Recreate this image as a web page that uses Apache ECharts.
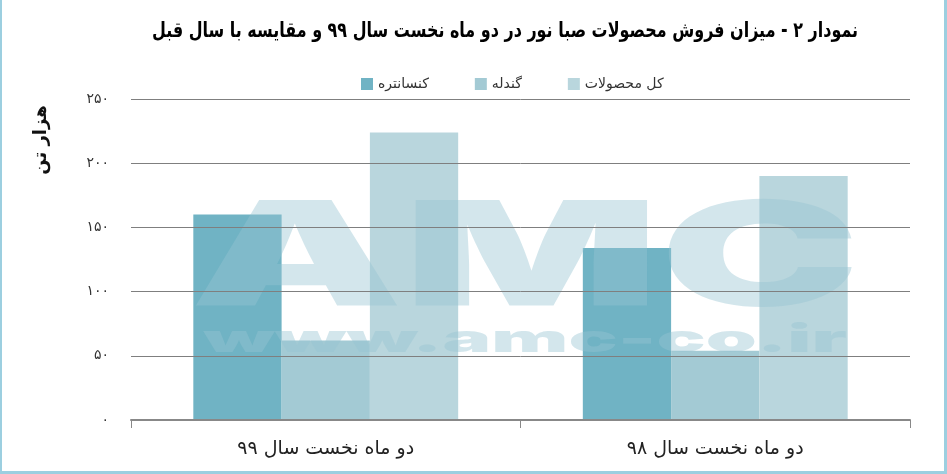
<!DOCTYPE html>
<html>
<head>
<meta charset="utf-8">
<script src="https://cdn.jsdelivr.net/npm/echarts@6/dist/echarts.min.js"></script>
<style>
html,body{margin:0;padding:0;background:#fff;}
#c{width:947px;height:474px;}
</style>
</head>
<body>
<div id="c"></div>
<script>
const categories = ['دو ماه نخست سال ۹۹', 'دو ماه نخست سال ۹۸'];
const seriesNames = ['کنسانتره', 'گندله', 'کل محصولات'];
const concentrate = [160, 134];
const pellet = [62, 54];
const total = [224, 190];
const yTicks = [0, 50, 100, 150, 200, 250];
const titleText = 'نمودار ۲ - میزان فروش محصولات صبا نور در دو ماه نخست سال ۹۹ و مقایسه با سال قبل';
const yName = 'هزار تن';

const fa = s => String(s).replace(/[0-9]/g, d => '۰۱۲۳۴۵۶۷۸۹'[+d]);
const FONT = 'DejaVu Sans';
const colors = ['#70b3c4', '#a3cad4', '#b9d6dd'];

const chart = echarts.init(document.getElementById('c'));
chart.setOption({
  animation: false,
  backgroundColor: '#fff',
  textStyle: {fontFamily: FONT},
  legend: {
    data: seriesNames, left: 356, top: 72, itemWidth: 12, itemHeight: 12, itemGap: 46,
    icon: 'rect',
    textStyle: {fontFamily: FONT, fontSize: 14, color: '#333'}
  },
  grid: {left: 131, right: 37, top: 99, bottom: 54},
  xAxis: {
    type: 'category', data: categories, z: 5,
    axisLine: {lineStyle: {color: '#888', width: 2}},
    axisTick: {show: true, length: 8, lineStyle: {color: '#888'}},
    axisLabel: {fontFamily: FONT, fontSize: 19, color: '#222', margin: 20}
  },
  yAxis: {
    type: 'value', min: yTicks[0], max: yTicks[yTicks.length - 1], interval: 50, z: 5,
    axisLine: {show: false}, axisTick: {show: false},
    splitLine: {lineStyle: {color: '#7f7f7f', width: 1}},
    axisLabel: {fontFamily: FONT, fontSize: 14, color: '#333', margin: 22, formatter: v => fa(v)}
  },
  series: [
    {name: seriesNames[0], type: 'bar', data: concentrate, barGap: '0%', barCategoryGap: '32%', itemStyle: {color: colors[0]}},
    {name: seriesNames[1], type: 'bar', data: pellet, itemStyle: {color: colors[1]}},
    {name: seriesNames[2], type: 'bar', data: total, itemStyle: {color: colors[2]}}
  ],
  graphic: [
    {type: 'text', x: 505, y: 32, scaleX: 0.76, z: 10,
     style: {text: titleText, fontFamily: FONT, fontSize: 21, fontWeight: 'bold', fill: '#000', align: 'center', verticalAlign: 'middle'}},
    {type: 'text', x: 41, y: 140, rotation: Math.PI / 2, z: 10,
     style: {text: yName, fontFamily: FONT, fontSize: 18, fontWeight: 'bold', fill: '#111', align: 'center', verticalAlign: 'middle'}},
    {type: 'text', x: 525, y: 262, scaleX: 1.85, scaleY: 1, z: 3, silent: true,
     style: {text: 'AMC', fontFamily: 'Inter', fontSize: 145, fontWeight: 900, fill: 'rgba(150,195,210,0.42)', align: 'center', verticalAlign: 'middle'}},
    {type: 'text', x: 525, y: 341, scaleX: 2.15, scaleY: 1, z: 3, silent: true,
     style: {text: 'www.amc-co.ir', fontFamily: 'Inter', fontSize: 38, fontWeight: 900, fill: 'rgba(150,195,210,0.42)', align: 'center', verticalAlign: 'middle'}},
    {type: 'rect', shape: {x: 0, y: 0, width: 2, height: 474}, style: {fill: '#9ccfe0'}, z: 10},
    {type: 'rect', shape: {x: 944, y: 0, width: 3, height: 474}, style: {fill: '#9ccfe0'}, z: 10},
    {type: 'rect', shape: {x: 0, y: 471, width: 947, height: 3}, style: {fill: '#9ccfe0'}, z: 10}
  ]
});
</script>
</body>
</html>
